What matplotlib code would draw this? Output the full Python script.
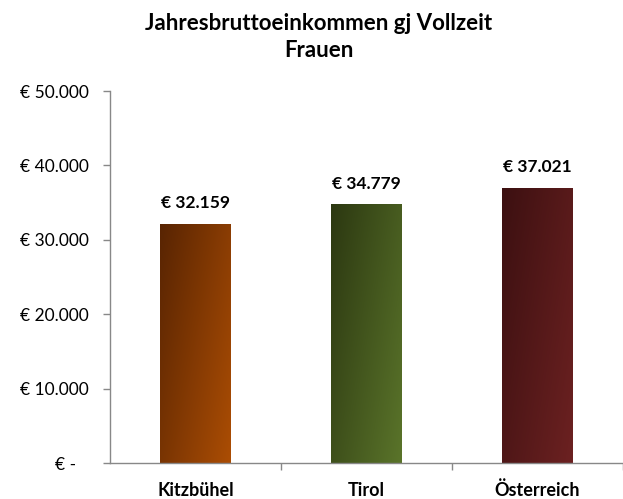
import numpy as np
import matplotlib
matplotlib.use("Agg")
import matplotlib.pyplot as plt
from matplotlib.colors import LinearSegmentedColormap

plt.rcParams['font.family'] = ['Lato', 'DejaVu Sans']

categories = ["Kitzbühel", "Tirol", "Österreich"]
values = [32159, 34779, 37021]
value_labels = ["€ 32.159", "€ 34.779", "€ 37.021"]
y_ticks = [0, 10000, 20000, 30000, 40000, 50000]
y_tick_labels = ["€ -   ", "€ 10.000", "€ 20.000", "€ 30.000", "€ 40.000", "€ 50.000"]
title = "Jahresbruttoeinkommen gj Vollzeit\nFrauen"

# dark (top-left) to light (bottom-right) gradient per bar
bar_gradients = [
    ("#582402", "#ab4d04"),
    ("#2c3811", "#5a742a"),
    ("#3c1011", "#6c2121"),
]

fig = plt.figure(figsize=(6.23, 4.99), dpi=100)
ax = fig.add_axes([0.1766, 0.072, 0.8234, 0.7456])

x = np.arange(len(categories))
bars = ax.bar(x, values, width=0.41, color="none", edgecolor="none", zorder=2)

# diagonal gradient fill clipped to each bar
u = np.linspace(0, 1, 60)
v = np.linspace(0, 1, 200)
U, V = np.meshgrid(u, v)
T = 0.6 * U + 0.4 * V  # row 0 is drawn at the top with origin='upper'
for rect, (c0, c1) in zip(bars, bar_gradients):
    cmap = LinearSegmentedColormap.from_list("g", [c0, c1])
    x0, y0 = rect.get_x(), rect.get_y()
    w, h = rect.get_width(), rect.get_height()
    im = ax.imshow(T, cmap=cmap, vmin=0, vmax=1, origin="upper",
                   extent=[x0, x0 + w, y0, y0 + h], aspect="auto",
                   interpolation="bilinear", zorder=2)
    im.set_clip_path(rect)

for xi, val, lab in zip(x, values, value_labels):
    ax.annotate(lab, (xi, val), xytext=(0, 11), textcoords="offset points",
                ha="center", va="baseline", fontsize=12.5, fontweight="bold",
                color="#000000")

ax.set_xlim(-0.5, len(categories) - 0.5)
ax.set_ylim(0, 50000)
ax.set_yticks(y_ticks)
ax.set_yticklabels(y_tick_labels, fontsize=12.5)
ax.set_xticks(x)
ax.set_xticklabels(categories, fontsize=13, fontweight="bold", va="baseline")
ax.set_xticks(np.arange(len(categories)) + 0.5, minor=True)

ax.tick_params(axis="y", direction="out", length=5, width=1, color="#888888", pad=10)
ax.tick_params(axis="x", which="major", length=0, pad=23.5)
ax.tick_params(axis="x", which="minor", direction="out", length=5, width=1, color="#888888")

for side in ("top", "right"):
    ax.spines[side].set_visible(False)
for side in ("left", "bottom"):
    ax.spines[side].set_color("#888888")
    ax.spines[side].set_linewidth(1)

fig.text(0.512, 0.925, title, ha="center", va="center", fontsize=16,
         fontweight="bold", linespacing=1.35)

fig.savefig("out.png", dpi=100)
